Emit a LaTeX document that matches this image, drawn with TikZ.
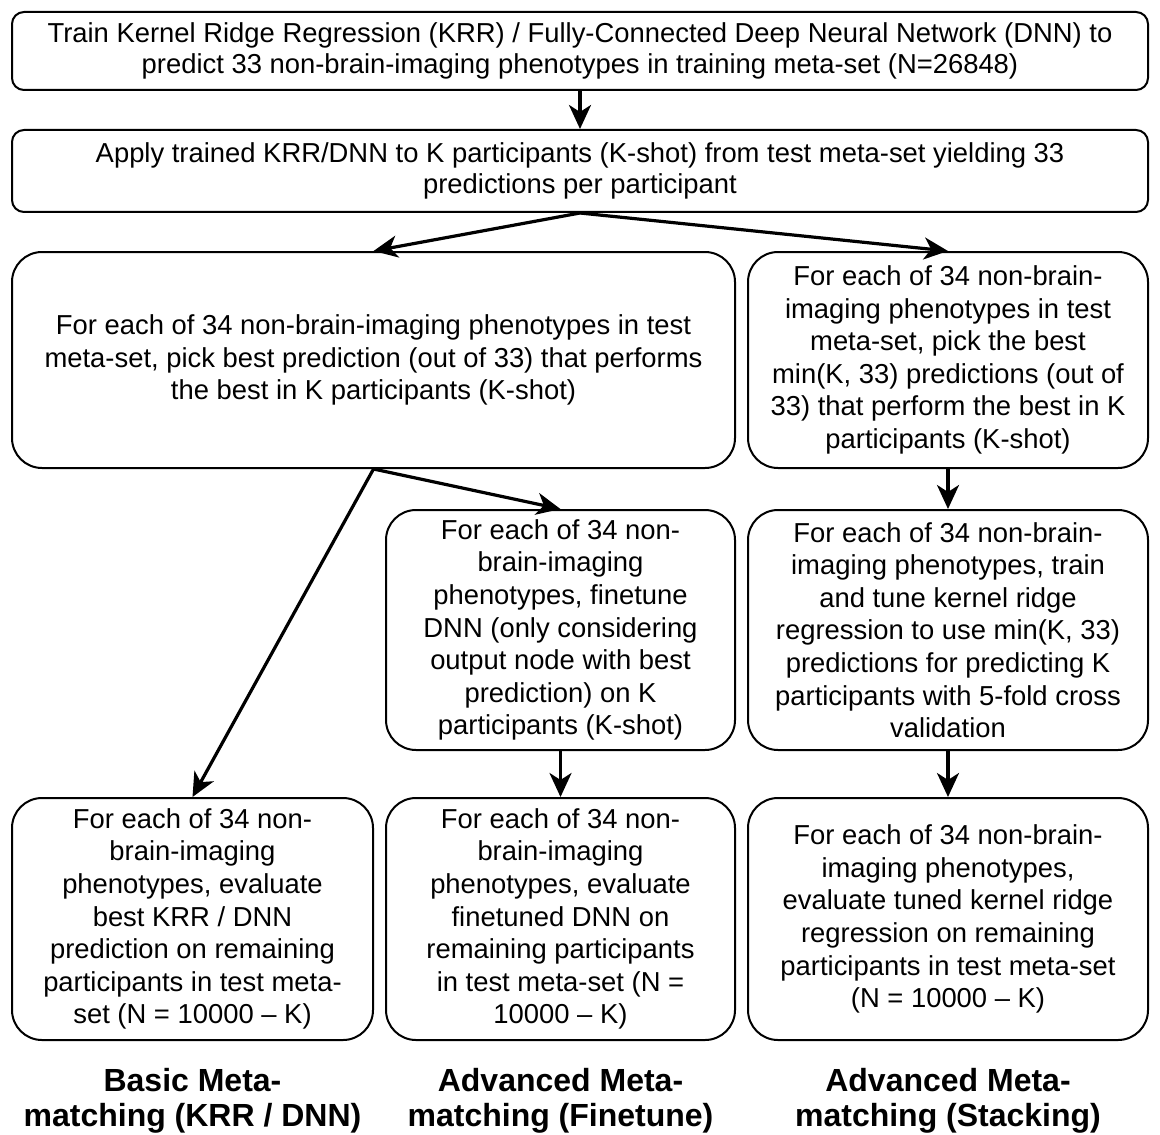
\documentclass[tikz,border=0pt]{standalone}
\usepackage{fontspec}
\setmainfont{Liberation Sans}
\usepackage{tikz}
\usetikzlibrary{arrows.meta, positioning}
\tikzset{
  topbox/.style={rectangle, draw=black, line width=1pt, rounded corners=6pt,
    align=center, font=\fontsize{13.7}{15.8}\selectfont, inner sep=2pt},
  stepbox/.style={rectangle, draw=black, line width=1pt, rounded corners=15pt,
    align=center, font=\fontsize{13.7}{16.3}\selectfont, inner sep=2pt},
  title/.style={align=center, font=\fontsize{16}{17.5}\selectfont\bfseries},
  arrow/.style={-{Stealth[length=12pt, width=11pt, inset=3.5pt]}, line width=1.6pt}
}
\begin{document}
\begin{tikzpicture}[x=0.5pt, y=-0.5pt]
  \useasboundingbox (0,0) rectangle (1160,1134);

  % Top boxes
  \node[topbox, minimum width=568pt, minimum height=39pt] (train) at (580,51)
    {Train Kernel Ridge Regression (KRR) / Fully-Connected Deep Neural Network (DNN) to\\
     predict 33 non-brain-imaging phenotypes in training meta-set (N=26848)};
  \node[topbox, minimum width=568pt, minimum height=41pt] (apply) at (580,171)
    {Apply trained KRR/DNN to K participants (K-shot) from test meta-set yielding 33\\
     predictions per participant};

  % Picking predictions
  \node[stepbox, minimum width=361.5pt, minimum height=108pt] (pick) at (373.5,360)
    {For each of 34 non-brain-imaging phenotypes in test\\
     meta-set, pick best prediction (out of 33) that performs\\
     the best in K participants (K-shot)};
  \node[stepbox, minimum width=200pt, minimum height=108pt] (pickk) at (948,360)
    {For each of 34 non-brain-\\imaging phenotypes in test\\meta-set, pick the best\\
     min(K, 33) predictions (out of\\33) that perform the best in K\\participants (K-shot)};

  % Finetune / stacking
  \node[stepbox, minimum width=174.5pt, minimum height=120pt] (finetune) at (560.5,630)
    {For each of 34 non-\\brain-imaging\\phenotypes, finetune\\DNN (only considering\\
     output node with best\\prediction) on K\\participants (K-shot)};
  \node[stepbox, minimum width=200pt, minimum height=120pt] (stack) at (948,630)
    {For each of 34 non-brain-\\imaging phenotypes, train\\and tune kernel ridge\\
     regression to use min(K, 33)\\predictions for predicting K\\
     participants with 5-fold cross\\validation};

  % Evaluation
  \node[stepbox, minimum width=180.5pt, minimum height=121pt] (evalbasic) at (192.5,919)
    {For each of 34 non-\\brain-imaging\\phenotypes, evaluate\\best KRR / DNN\\
     prediction on remaining\\participants in test meta-\\set (N = 10000 – K)};
  \node[stepbox, minimum width=174.5pt, minimum height=121pt] (evalft) at (560.5,919)
    {For each of 34 non-\\brain-imaging\\phenotypes, evaluate\\finetuned DNN on\\
     remaining participants\\in test meta-set (N =\\10000 – K)};
  \node[stepbox, minimum width=200pt, minimum height=121pt] (evalstack) at (948,919)
    {For each of 34 non-brain-\\imaging phenotypes,\\evaluate tuned kernel ridge\\
     regression on remaining\\participants in test meta-set\\(N = 10000 – K)};

  % Titles
  \node[title, below=10pt of evalbasic] (tbasic) {Basic Meta-\\matching (KRR / DNN)};
  \node[title, below=10pt of evalft] (tft) {Advanced Meta-\\matching (Finetune)};
  \node[title, below=10pt of evalstack] (tstack) {Advanced Meta-\\matching (Stacking)};

  % Arrows
  \draw[arrow] (train.south) -- (apply.north);
  \draw[arrow] (apply.south) -- (pick.north);
  \draw[arrow] (apply.south) -- (pickk.north);
  \draw[arrow] (pick.south) -- (finetune.north);
  \draw[arrow] (pick.south) -- (evalbasic.north);
  \draw[arrow] (pickk.south) -- (stack.north);
  \draw[arrow] (finetune.south) -- (evalft.north);
  \draw[arrow] (stack.south) -- (evalstack.north);
\end{tikzpicture}
\end{document}
